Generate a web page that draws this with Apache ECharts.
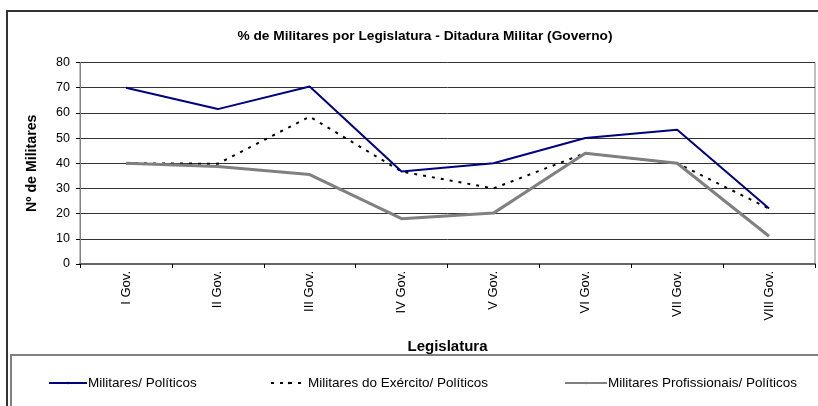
<!DOCTYPE html>
<html>
<head>
<meta charset="utf-8">
<script src="https://cdn.jsdelivr.net/npm/echarts@6/dist/echarts.min.js"></script>
<style>
html,body{margin:0;padding:0;background:#fff;}
#chart{width:818px;height:406px;}
</style>
</head>
<body>
<div id="chart"></div>
<script>
var categories = ['I Gov.', 'II Gov.', 'III Gov.', 'IV Gov.', 'V Gov.', 'VI Gov.', 'VII Gov.', 'VIII Gov.'];
var militaresPoliticos = [70, 61.5, 70.5, 36.7, 40, 50, 53.3, 22];
var exercitoPoliticos = [40, 39.8, 58.5, 36.7, 30, 44, 40, 22];
var profissionaisPoliticos = [40, 38.7, 35.5, 18, 20.2, 44, 40, 11];
var seriesNames = ['Militares/ Políticos', 'Militares do Exército/ Políticos', 'Militares Profissionais/ Políticos'];
var yTicks = {min: 0, max: 80, interval: 10};

var FONT = '"Liberation Sans", Arial, sans-serif';
var chart = echarts.init(document.getElementById('chart'), null, {renderer: 'canvas'});

function legendAt(left, name, w) {
  return {
    left: left, top: 376, padding: 0, itemWidth: w, itemHeight: 3, itemGap: 0,
    data: [name], selectedMode: false,
    textStyle: {fontFamily: FONT, fontSize: 13.5, color: '#000', padding: [0, 0, 0, -4]}
  };
}

chart.setOption({
  animation: false,
  backgroundColor: '#fff',
  textStyle: {fontFamily: FONT},
  title: {
    text: '% de Militares por Legislatura - Ditadura Militar (Governo)',
    left: 420, top: 24, textAlign: 'center',
    textStyle: {fontFamily: FONT, fontSize: 13.7, fontWeight: 'bold', color: '#000'}
  },
  graphic: [
    {type: 'rect', shape: {x: 7, y: 11, width: 840, height: 420}, style: {fill: 'none', stroke: '#333', lineWidth: 2}, silent: true, z: -1},
    {type: 'rect', shape: {x: 11, y: 355, width: 840, height: 80}, style: {fill: 'none', stroke: '#808080', lineWidth: 2}, silent: true, z: -1}
  ],
  legend: [
    legendAt(48, seriesNames[0], 38),
    legendAt(270, seriesNames[1], 36),
    legendAt(564, seriesNames[2], 42)
  ],
  grid: {left: 80, right: 3, top: 62.5, bottom: 142, show: true, borderColor: '#808080', borderWidth: 1, containLabel: false},
  xAxis: {
    type: 'category', data: categories, boundaryGap: true,
    name: 'Legislatura', nameLocation: 'middle', nameGap: 75,
    nameTextStyle: {fontFamily: FONT, fontSize: 15, fontWeight: 'bold', color: '#000'},
    axisLine: {lineStyle: {color: '#666', width: 2}},
    axisTick: {show: true, length: 4, alignWithLabel: false, lineStyle: {color: '#000'}},
    axisLabel: {rotate: 90, margin: 7, fontFamily: FONT, fontSize: 13, color: '#000'},
    splitLine: {show: false}
  },
  yAxis: {
    type: 'value', min: yTicks.min, max: yTicks.max, interval: yTicks.interval,
    name: 'Nº de Militares', nameLocation: 'middle', nameGap: 41, nameRotate: 90,
    nameTextStyle: {fontFamily: FONT, fontSize: 14.2, fontWeight: 'bold', color: '#000'},
    axisLine: {show: true, lineStyle: {color: '#808080', width: 1}},
    axisTick: {show: true, length: 4, lineStyle: {color: '#000'}},
    axisLabel: {margin: 10, fontFamily: FONT, fontSize: 12.5, color: '#000'},
    splitLine: {show: true, lineStyle: {color: '#333', width: 1}}
  },
  series: [
    {name: seriesNames[0], type: 'line', data: militaresPoliticos, symbol: 'none',
     lineStyle: {color: '#000080', width: 2}, itemStyle: {color: '#000080'}, z: 3},
    {name: seriesNames[1], type: 'line', data: exercitoPoliticos, symbol: 'none',
     lineStyle: {color: '#000', width: 2, type: [3, 6]}, itemStyle: {color: '#000'}, z: 2},
    {name: seriesNames[2], type: 'line', data: profissionaisPoliticos, symbol: 'none',
     lineStyle: {color: '#808080', width: 3}, itemStyle: {color: '#808080'}, z: 2}
  ]
});
</script>
</body>
</html>
